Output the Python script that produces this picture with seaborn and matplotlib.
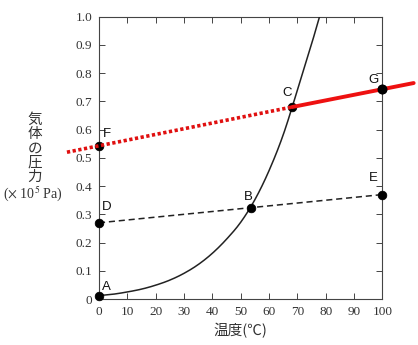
import matplotlib
matplotlib.use("Agg")
import matplotlib.pyplot as plt
import seaborn as sns
import pandas as pd
import numpy as np

# Vapour pressure curve (temperature in °C, pressure in 10^5 Pa)
curve_t = [0, 5, 10, 15, 20, 25, 30, 35, 40, 45, 50, 55, 60, 65, 70, 74, 77.8, 79]
curve_p = [0.012, 0.017, 0.025, 0.035, 0.049, 0.067, 0.091, 0.122, 0.162, 0.212,
           0.272, 0.352, 0.455, 0.582, 0.74, 0.87, 1.0, 1.05]

# Labelled state points
pt_names = ["A", "B", "C", "D", "E", "F", "G"]
pt_t = [0, 53.6, 68.1, 0, 100, 0, 100]
pt_p = [0.012, 0.324, 0.68, 0.27, 0.37, 0.542, 0.745]

# Gas line at lower pressure (D - B - E)
low_t = [0, 100]
low_p = [0.27, 0.37]

# Gas line at higher pressure: dotted part up to C, solid part beyond C
hi_dot_t = [-11.3, 68.1]
hi_dot_p = [0.52, 0.68]
hi_sol_t = [68.1, 111]
hi_sol_p = [0.68, 0.765]

x_ticks = list(range(0, 101, 10))
y_ticks = [0, 0.1, 0.2, 0.3, 0.4, 0.5, 0.6, 0.7, 0.8, 0.9, 1.0]
y_ticklabels = ["0", "0.1", "0.2", "0.3", "0.4", "0.5", "0.6", "0.7", "0.8", "0.9", "1.0"]


def catmull_rom(xs, ys, n=12):
    """Smooth polyline through the given points (uniform Catmull-Rom)."""
    x = np.asarray(xs, float)
    y = np.asarray(ys, float)
    px = np.concatenate([[2 * x[0] - x[1]], x, [2 * x[-1] - x[-2]]])
    py = np.concatenate([[2 * y[0] - y[1]], y, [2 * y[-1] - y[-2]]])
    out_x, out_y = [], []
    for i in range(1, len(px) - 2):
        s = np.linspace(0, 1, n, endpoint=False)
        for arr, res in ((px, out_x), (py, out_y)):
            p0, p1, p2, p3 = arr[i - 1], arr[i], arr[i + 1], arr[i + 2]
            res.extend(0.5 * ((2 * p1) + (-p0 + p2) * s
                              + (2 * p0 - 5 * p1 + 4 * p2 - p3) * s ** 2
                              + (-p0 + 3 * p1 - 3 * p2 + p3) * s ** 3))
    out_x.append(x[-1])
    out_y.append(y[-1])
    return out_x, out_y


sns.set_style("ticks")
plt.rcParams["font.family"] = ["Liberation Serif", "DejaVu Serif"]
plt.rcParams["mathtext.fontset"] = "stix"

fig = plt.figure(figsize=(4.18, 3.45), dpi=100)
ax = fig.add_axes([0.2368, 0.1333, 0.915 - 0.2368, 0.9516 - 0.1333])

sx, sy = catmull_rom(curve_t, curve_p)
curve_df = pd.DataFrame({"t": sx, "p": sy})
sns.lineplot(data=curve_df, x="t", y="p", ax=ax, color="#222222", lw=1.1,
             sort=False, estimator=None, zorder=3)

low_df = pd.DataFrame({"t": low_t, "p": low_p})
sns.lineplot(data=low_df, x="t", y="p", ax=ax, color="#222222", lw=1.1,
             linestyle=(0, (4, 2.5)), estimator=None, zorder=3)

pts_df = pd.DataFrame({"t": pt_t, "p": pt_p, "name": pt_names})
sns.scatterplot(data=pts_df, x="t", y="p", ax=ax, color="black", s=38,
                edgecolor="black", linewidth=0.6, zorder=4, clip_on=False)

ax.plot(hi_dot_t, hi_dot_p, color="#e01010", lw=2.6, linestyle=(0, (0.9, 0.7)),
        solid_capstyle="butt", clip_on=False, zorder=5)
ax.plot(hi_sol_t, hi_sol_p, color="#ee1111", lw=2.8, clip_on=False, zorder=5)
# G sits on top of the red line
ax.scatter([pt_t[6]], [pt_p[6]], s=38, color="black", zorder=6, clip_on=False)

label_pos = {"A": (2.7, 0.044), "B": (52.7, 0.363), "C": (66.2, 0.73),
             "D": (2.7, 0.327), "E": (96.8, 0.428), "F": (2.7, 0.585),
             "G": (96.8, 0.776)}
for name in pt_names:
    lx, ly = label_pos[name]
    ax.text(lx, ly, name, fontsize=9.5, family=["Liberation Sans", "DejaVu Sans"],
            ha="center", va="center", color="#111111", zorder=7)

ax.set_xlim(0, 100)
ax.set_ylim(0, 1.0)
ax.set_xticks(x_ticks)
ax.set_xticklabels([str(v) for v in x_ticks])
ax.set_yticks(y_ticks)
ax.set_yticklabels(y_ticklabels)
ax.tick_params(direction="in", length=4.5, width=0.7, color="#444444",
               top=True, right=True, labelsize=9.5, labelcolor="#333333", pad=5)
for s in ax.spines.values():
    s.set_visible(True)
    s.set_color("#444444")
    s.set_linewidth(0.8)
ax.set_xlabel("")
ax.set_ylabel("")

cjk = ["Noto Sans CJK JP", "DejaVu Sans"]
# Vertical y-axis title, one character per line
ylab_chars = ["気", "体", "の", "圧", "力"]
for i, ch in enumerate(ylab_chars):
    fig.text(35 / 418, 1 - (120 + i * 14.2) / 345, ch, fontsize=10.5, family=cjk,
             ha="center", va="center", color="#333333")
fig.text(33 / 418, 1 - 194 / 345, r"($\times$ 10$^5$ Pa)", fontsize=10,
         family=["Liberation Serif", "DejaVu Serif"], ha="center", va="center",
         color="#333333")

fig.text(240 / 418, 1 - 331 / 345, "温度(℃)", fontsize=10.5, family=cjk,
         ha="center", va="center", color="#333333")

fig.savefig("out.png", dpi=100, facecolor="white")
